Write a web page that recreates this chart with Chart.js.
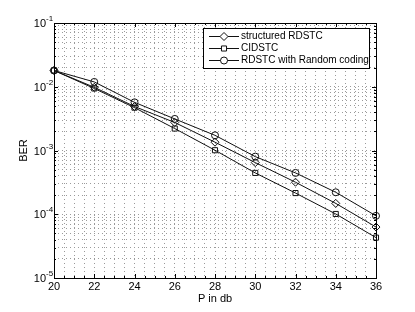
<!DOCTYPE html>
<html>
<head>
<meta charset="utf-8">
<script src="https://cdn.jsdelivr.net/npm/chart.js@4/dist/chart.umd.min.js"></script>
<style>
  html, body { margin: 0; padding: 0; background: #fff; }
  canvas { display: block; }
</style>
</head>
<body>
<canvas id="chart-ber" width="415" height="312"></canvas>
<script>
const xValues = [20, 22, 24, 26, 28, 30, 32, 34, 36];
const structuredRdstc = [0.018, 0.0098, 0.0049, 0.00275, 0.00135, 0.000646, 0.000318, 0.000148, 0.000063];
const cidstc = [0.018, 0.0094, 0.0047, 0.00221, 0.00101, 0.000445, 0.000215, 0.000101, 0.000043];
const rdstcRandom = [0.018, 0.0119, 0.0057, 0.00313, 0.00173, 0.000802, 0.000445, 0.000221, 0.0000944];

const seriesLabels = ['structured RDSTC', 'CIDSTC', 'RDSTC with Random coding'];
const xTickLabels = [20, 22, 24, 26, 28, 30, 32, 34, 36];
const yTickExponents = [-1, -2, -3, -4, -5];
const xTitle = 'P in db';
const yTitle = 'BER';

const FONT = "'Liberation Sans', Arial, Helvetica, sans-serif";

function toPoints(values) {
  return values.map((v, i) => ({ x: xValues[i], y: v }));
}

function lineSet(label, values, style, radius) {
  return {
    label,
    data: toPoints(values),
    borderColor: '#111',
    borderWidth: 1,
    pointStyle: style,
    pointRadius: radius,
    pointBorderColor: '#111',
    pointBackgroundColor: 'rgba(0,0,0,0)',
    pointBorderWidth: 1,
    tension: 0,
    fill: false,
    clip: false,
  };
}

// MATLAB style frame, ticks, labels and legend
const matlabFrame = {
  id: 'matlabFrame',
  afterDraw(chart) {
    const { ctx, chartArea: a, scales } = chart;
    const xs = scales.x;
    const ys = scales.y;
    ctx.save();
    ctx.strokeStyle = '#000';
    ctx.lineWidth = 1;

    // tick marks inside the box
    ctx.beginPath();
    for (let v = 20; v <= 36; v += 0.5) {
      const px = Math.round(xs.getPixelForValue(v)) + 0.5;
      const len = v % 2 === 0 ? 4 : 2;
      ctx.moveTo(px, a.bottom); ctx.lineTo(px, a.bottom - len);
      ctx.moveTo(px, a.top); ctx.lineTo(px, a.top + len);
    }
    yTickExponents.forEach((e) => {
      for (let m = 1; m <= 9; m++) {
        const val = m * Math.pow(10, e - 1);
        if (val < 1e-5 - 1e-12) continue;
        const py = Math.round(ys.getPixelForValue(val)) + 0.5;
        const len = m === 1 ? 4 : 2;
        ctx.moveTo(a.left, py); ctx.lineTo(a.left + len, py);
        ctx.moveTo(a.right, py); ctx.lineTo(a.right - len, py);
      }
    });
    ctx.stroke();

    // box
    ctx.strokeRect(Math.round(a.left) + 0.5, Math.round(a.top) + 0.5,
      Math.round(a.right - a.left), Math.round(a.bottom - a.top));

    // x tick labels
    ctx.fillStyle = '#000';
    ctx.font = `11px ${FONT}`;
    ctx.textAlign = 'center';
    ctx.textBaseline = 'middle';
    xTickLabels.forEach((v) => {
      ctx.fillText(String(v), xs.getPixelForValue(v), a.bottom + 9);
    });

    // y tick labels 10^e
    yTickExponents.forEach((e) => {
      const py = ys.getPixelForValue(Math.pow(10, e));
      ctx.font = `11px ${FONT}`;
      ctx.textAlign = 'right';
      ctx.fillText('10', a.left - 8, py + 1);
      ctx.font = `8px ${FONT}`;
      ctx.textAlign = 'left';
      ctx.fillText(String(e), a.left - 8, py - 4);
    });

    // axis titles
    ctx.font = `11px ${FONT}`;
    ctx.textAlign = 'center';
    ctx.fillText(xTitle, (a.left + a.right) / 2, a.bottom + 21);
    ctx.save();
    ctx.translate(24, (a.top + a.bottom) / 2);
    ctx.rotate(-Math.PI / 2);
    ctx.fillText(yTitle, 0, 0);
    ctx.restore();

    // legend
    const lx = 203.5, ly = 28.5, lw = 166, lh = 40;
    ctx.fillStyle = '#fff';
    ctx.fillRect(lx, ly, lw, lh);
    ctx.strokeRect(lx, ly, lw, lh);
    chart.data.datasets.forEach((ds, i) => {
      const ry = 36 + i * 12;
      ctx.beginPath();
      ctx.strokeStyle = '#111';
      ctx.moveTo(209, ry + 0.5); ctx.lineTo(239, ry + 0.5);
      ctx.stroke();
      ctx.fillStyle = '#fff';
      Chart.helpers.drawPoint(ctx, {
        pointStyle: ds.pointStyle, radius: ds.pointRadius, rotation: 0, borderWidth: 1,
      }, 224, ry + 0.5);
      ctx.fillStyle = '#000';
      ctx.font = `10px ${FONT}`;
      ctx.textAlign = 'left';
      ctx.fillText(ds.label, 241, ry + 0.5);
    });
    ctx.restore();
  },
};

const gridStyle = { color: '#9a9a9a', lineWidth: 1, drawTicks: false };
const borderStyle = { display: false, dash: [1, 3] };

const ctx = document.getElementById('chart-ber').getContext('2d');
new Chart(ctx, {
  type: 'line',
  data: {
    datasets: [
      lineSet(seriesLabels[0], structuredRdstc, 'rectRot', 4),
      lineSet(seriesLabels[1], cidstc, 'rect', 3.6),
      lineSet(seriesLabels[2], rdstcRandom, 'circle', 3.5),
    ],
  },
  options: {
    responsive: false,
    animation: false,
    devicePixelRatio: 1,
    layout: { padding: { top: 23, right: 39, bottom: 0, left: 0 } },
    plugins: { legend: { display: false }, tooltip: { enabled: false } },
    scales: {
      x: {
        type: 'linear',
        min: 20,
        max: 36,
        afterBuildTicks: (scale) => {
          const t = [];
          for (let v = 20; v <= 36; v += 0.5) t.push({ value: v });
          scale.ticks = t;
        },
        afterFit: (scale) => { scale.height = 34; },
        ticks: { display: false },
        border: borderStyle,
        grid: gridStyle,
      },
      y: {
        type: 'logarithmic',
        min: 1e-5,
        max: 1e-1,
        afterBuildTicks: (scale) => {
          const t = [];
          for (let e = -5; e <= -2; e++) {
            for (let m = 1; m <= 9; m++) t.push({ value: m * Math.pow(10, e) });
          }
          t.push({ value: 1e-1 });
          scale.ticks = t;
        },
        afterFit: (scale) => { scale.width = 54; },
        ticks: { display: false },
        border: borderStyle,
        grid: gridStyle,
      },
    },
  },
  plugins: [matlabFrame],
});
</script>
</body>
</html>
